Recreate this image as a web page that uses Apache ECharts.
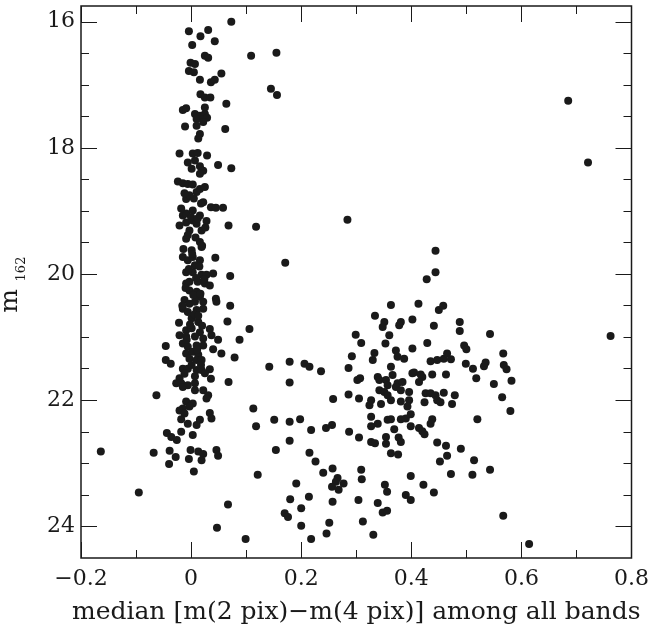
<!DOCTYPE html>
<html>
<head>
<meta charset="utf-8">
<script src="https://cdn.jsdelivr.net/npm/echarts@6/dist/echarts.min.js"></script>
<style>html,body{margin:0;padding:0;background:#fff}#c{width:652px;height:631px}</style>
</head>
<body>
<div id="c"></div>
<script>
// x: median [m(2 pix) - m(4 pix)] among all bands ; y: m162
const colorIndex = [
 0.073,-0.004,0.031,0.017,0.043,0.002,0.109,0.025,0.031,-0.001,0.007,-0.004,0.005,0.055,0.016,0.036,0.043,0.017,0.025,0.035,
 0.064,-0.015,-0.009,0.025,0.007,0.016,0.025,0.010,0.022,0.029,-0.011,0.010,0.022,0.062,0.016,0.013,-0.021,0.003,0.012,0.029,
 -0.006,0.007,0.049,0.073,0.001,0.016,0.022,0.016,-0.024,-0.015,-0.006,0.003,0.016,0.025,
 -0.009,-0.003,0.010,0.022,0.036,0.045,0.058,-0.015,-0.009,0.003,0.016,-0.021,-0.009,0.003,0.010,0.028,0.068,0.118,-0.003,0.019,
 -0.009,0.016,0.019,0.001,-0.015,-0.006,0.003,0.016,0.007,0.044,-0.009,0.003,0.019,0.028,0.040,0.071,-0.009,-0.003,0.012,0.025,
 0.034,-0.003,0.010,0.016,0.045,0.046,-0.012,-0.003,0.007,0.022,0.071,-0.015,-0.006,0.010,0.022,0.001,0.013,-0.022,0.066,0.106,
 -0.009,0.001,0.016,0.034,-0.021,-0.009,0.007,0.022,0.037,0.049,0.088,-0.046,-0.015,-0.006,0.010,0.022,0.040,0.055,0.079,-0.009,
 0.003,0.013,-0.003,0.010,0.019,-0.046,-0.037,-0.015,-0.006,0.010,0.019,0.034,
 0.025,-0.021,-0.027,-0.018,-0.006,0.007,-0.015,0.036,0.068,-0.063,0.007,0.022,0.031,0.028,-0.009,0.003,-0.003,-0.015,-0.021,-0.012,
 0.113,0.118,0.034,0.037,-0.018,-0.006,0.010,0.016,-0.018,0.003,-0.044,-0.036,-0.026,-0.164,-0.068,-0.039,-0.028,-0.040,-0.001,-0.004,
 0.013,0.022,0.019,0.005,0.046,0.049,-0.095,0.067,0.047,0.099,0.121,
 -0.012,0.005,0.018,-0.018,0.000,0.012,0.026,-0.006,0.008,0.020,-0.014,0.002,0.015,-0.004,0.009,0.024,-0.010,0.004,0.017,-0.016,
 0.006,0.013,-0.002,0.020,-0.008,0.011,0.001,0.018,-0.012,0.007,
 0.363,0.334,0.351,0.348,0.381,0.378,0.402,0.360,0.299,0.309,0.353,0.372,0.375,0.333,0.330,0.292,0.286,0.387,0.402,0.142,
 0.179,0.206,0.215,0.236,0.179,0.363,0.366,0.339,0.342,0.354,0.357,0.375,0.384,0.372,0.381,0.396,0.302,0.307,0.342,0.351,
 0.357,0.402,0.258,0.286,0.305,0.327,0.324,0.345,0.363,0.381,0.396,0.393,0.399,0.327,0.357,0.363,0.381,0.390,0.339,0.327,
 0.369,0.399,0.151,0.179,0.198,0.218,0.245,0.256,0.287,0.305,0.327,0.334,0.354,0.354,0.377,0.381,0.363,0.376,0.179,0.154,
 0.215,0.226,0.240,0.257,0.266,0.263,0.277,0.256,0.268,0.309,0.310,0.191,0.180,0.214,0.200,0.257,0.304,0.339,0.352,0.356,
 0.399,0.390,0.399,0.348,0.356,0.170,0.176,0.200,0.251,0.246,0.312,0.218,0.331,
 0.413,0.450,0.458,0.441,0.488,0.488,0.543,0.429,0.496,0.500,0.435,0.447,0.459,0.465,0.472,0.499,0.512,0.532,0.535,0.567,
 0.568,0.573,0.582,0.550,0.518,0.405,0.417,0.420,0.414,0.438,0.463,0.426,0.435,0.444,0.459,0.479,0.424,0.447,0.453,0.474,
 0.565,0.580,0.520,0.438,0.435,0.414,0.420,0.424,0.447,0.463,0.465,0.452,0.490,0.514,0.472,0.511,0.543,0.422,0.441,0.567,
 0.614,
 0.155,0.145,0.156,0.284,0.171,0.685,0.721,0.762,0.444,0.444,0.428
];
const mag162 = [
 16.00,16.15,16.13,16.23,16.31,16.37,16.54,16.54,16.57,16.65,16.67,16.78,16.80,16.82,16.92,16.96,16.92,17.15,17.20,17.20,
 17.30,17.40,17.37,17.36,17.46,17.49,17.46,17.54,17.54,17.52,17.66,17.65,17.59,17.70,17.78,17.85,18.09,18.09,18.08,18.12,
 18.23,18.20,18.27,18.32,18.33,18.29,18.36,18.41,18.53,18.56,18.57,18.58,18.65,18.62,
 18.81,18.75,18.70,18.86,18.94,18.95,18.95,19.07,19.04,18.99,19.07,19.23,19.18,19.15,19.20,19.16,19.23,19.25,19.31,19.31,
 19.44,19.49,19.57,19.62,19.73,19.78,19.73,19.78,19.86,19.74,19.97,19.97,20.01,20.01,19.99,20.03,20.15,20.12,20.12,20.15,
 20.18,20.26,20.28,20.36,20.39,20.44,20.41,20.47,20.44,20.44,20.50,20.55,20.60,20.57,20.55,20.70,20.76,20.77,20.75,20.87,
 20.89,20.86,20.92,20.87,20.97,20.99,20.99,21.02,20.97,21.04,21.04,21.14,21.10,21.15,21.13,21.13,21.19,21.26,21.32,21.26,
 21.23,21.28,21.34,21.36,21.36,21.36,21.42,21.50,21.50,21.52,21.52,21.51,
 21.57,21.65,21.73,21.73,21.76,21.73,21.79,21.66,21.71,21.92,21.84,21.84,21.92,21.97,22.02,22.05,22.10,22.13,22.16,22.21,
 22.13,22.41,22.20,22.29,22.30,22.37,22.39,22.31,22.50,22.55,22.52,22.58,22.63,22.81,22.83,22.80,22.90,23.01,22.79,22.93,
 22.81,22.85,22.95,23.13,22.79,22.88,23.46,23.65,24.02,24.20,23.18,
 18.72,18.80,18.88,18.96,19.10,19.12,19.26,19.38,19.42,19.55,19.60,19.68,19.88,19.92,20.06,20.08,20.22,20.33,20.31,20.50,
 20.64,20.66,20.80,20.82,21.04,21.20,21.44,21.44,21.58,21.62,
 20.49,20.66,20.76,20.84,20.76,20.81,20.72,20.97,20.96,21.09,21.10,21.21,21.31,21.25,21.36,21.30,21.49,21.34,21.18,21.47,
 21.39,21.42,21.47,21.54,21.72,21.47,21.60,21.63,21.68,21.68,21.76,21.73,21.71,21.79,21.84,21.87,21.68,21.65,21.84,21.87,
 21.92,21.57,21.98,21.91,21.97,22.00,22.08,22.06,22.00,22.02,22.00,22.10,22.22,22.26,22.31,22.30,22.30,22.29,22.37,22.41,
 22.46,22.41,22.31,22.34,22.30,22.47,22.44,22.39,22.50,22.59,22.66,22.68,22.58,22.69,22.59,22.66,22.84,22.86,22.64,22.79,
 22.83,22.97,23.15,23.08,23.23,23.29,23.32,23.37,23.42,23.10,23.25,23.32,23.57,23.53,23.71,23.61,23.58,23.63,23.34,23.45,
 23.20,23.50,23.58,23.78,23.75,23.79,23.85,23.99,23.94,24.11,23.92,24.20,24.13,
 20.47,20.57,20.50,20.82,20.76,20.90,20.95,21.09,21.13,21.19,21.38,21.36,21.34,21.26,21.35,21.42,21.50,21.46,21.40,21.26,
 21.44,21.51,21.69,21.74,21.65,21.56,21.59,21.63,21.71,21.59,21.59,21.89,21.89,21.92,21.88,21.92,22.03,22.00,22.03,22.06,
 21.95,22.17,22.30,22.30,22.37,22.44,22.49,22.54,22.67,22.72,22.88,22.97,22.77,22.95,23.17,23.18,23.10,23.34,23.46,23.83,
 24.28,
 16.49,17.06,17.16,19.14,19.82,17.25,18.23,20.98,19.63,19.97,20.08
];
const yMajorTicks = [16, 18, 20, 22, 24];
const yMinorTicks = [16.5, 17, 17.5, 18, 18.5, 19, 19.5, 20, 20.5, 21, 21.5, 22, 22.5, 23, 23.5, 24];
const xTitle = 'median [m(2 pix)\u2212m(4 pix)] among all bands';
const yTitleMain = 'm';
const yTitleSub = '162';

const points = colorIndex.map((x, i) => [x, mag162[i]]);

const FONT = 'DejaVu Serif';
const INK = '#1a1a1a';
const chart = echarts.init(document.getElementById('c'), null, {renderer: 'canvas'});

function xFmt(v) {
  if (Math.abs(v) < 1e-9) return '0';
  return (v < 0 ? '\u2212' : '') + Math.abs(v).toFixed(1);
}
const baseX = {type: 'value', min: -0.2, max: 0.8, splitLine: {show: false},
  axisLine: {show: false, onZero: false}};
const baseY = {type: 'value', min: 15.75, max: 24.5, inverse: true, splitLine: {show: false},
  axisLine: {show: false, onZero: false}};
const tickStyle = {color: INK, width: 1};

chart.setOption({
  animation: false,
  backgroundColor: '#fff',
  grid: {left: 81, top: 6, width: 552, height: 552, show: true, borderColor: INK, borderWidth: 1.5, backgroundColor: 'transparent'},
  xAxis: [
    Object.assign({}, baseX, {position: 'bottom', interval: 0.2,
      axisTick: {inside: true, length: 16, lineStyle: tickStyle},
      axisLabel: {margin: 10, fontFamily: FONT, fontSize: 22, color: INK, formatter: xFmt, showMinLabel: true, showMaxLabel: true},
      name: xTitle, nameLocation: 'middle', nameGap: 42,
      nameTextStyle: {fontFamily: FONT, fontSize: 25, color: INK}}),
    Object.assign({}, baseX, {position: 'bottom', interval: 0.1,
      axisTick: {inside: true, length: 8, lineStyle: tickStyle}, axisLabel: {show: false}}),
    Object.assign({}, baseX, {position: 'top', interval: 0.2,
      axisTick: {inside: true, length: 16, lineStyle: tickStyle}, axisLabel: {show: false}}),
    Object.assign({}, baseX, {position: 'top', interval: 0.1,
      axisTick: {inside: true, length: 8, lineStyle: tickStyle}, axisLabel: {show: false}})
  ],
  yAxis: [
    Object.assign({}, baseY, {position: 'left',
      axisTick: {inside: true, length: 16, customValues: yMajorTicks, lineStyle: tickStyle},
      axisLabel: {margin: 6, fontFamily: FONT, fontSize: 22, color: INK, customValues: yMajorTicks}}),
    Object.assign({}, baseY, {position: 'left',
      axisTick: {inside: true, length: 8, customValues: yMinorTicks, lineStyle: tickStyle},
      axisLabel: {show: false}}),
    Object.assign({}, baseY, {position: 'right',
      axisTick: {inside: true, length: 16, customValues: yMajorTicks, lineStyle: tickStyle},
      axisLabel: {show: false}}),
    Object.assign({}, baseY, {position: 'right',
      axisTick: {inside: true, length: 8, customValues: yMinorTicks, lineStyle: tickStyle},
      axisLabel: {show: false}})
  ],
  graphic: [{
    type: 'group', x: 10, y: 301, rotation: Math.PI / 2,
    children: [
      {type: 'text', x: 0, y: 0, style: {text: yTitleMain, font: '25px "DejaVu Serif"', fill: INK, align: 'center', verticalAlign: 'middle'}},
      {type: 'text', x: 32, y: 12, style: {text: yTitleSub, font: '13px "DejaVu Serif"', fill: INK, align: 'center', verticalAlign: 'middle'}}
    ]
  }],
  series: [{
    type: 'scatter', xAxisIndex: 0, yAxisIndex: 0,
    data: points, symbol: 'circle', symbolSize: 8,
    itemStyle: {color: INK, opacity: 1}
  }]
});
</script>
</body>
</html>
